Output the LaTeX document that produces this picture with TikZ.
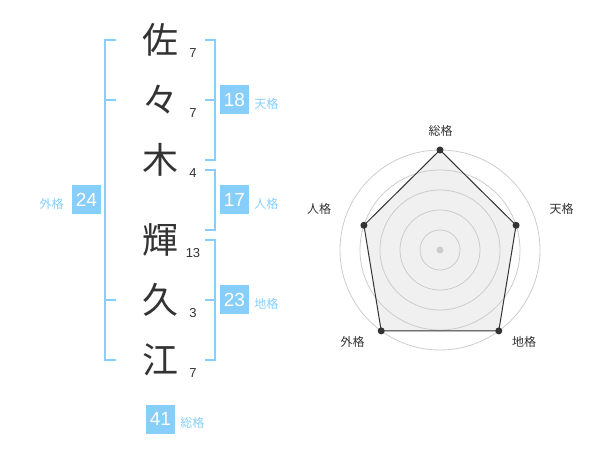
\documentclass[tikz,border=0pt]{standalone}
\usepackage{fontspec}
\setmainfont{Liberation Sans}
\newfontfamily\jpfont{Noto Sans CJK JP}
\usepackage{tikz}
\usetikzlibrary{positioning}
\definecolor{kakublue}{RGB}{135,206,250}
\definecolor{inkgray}{RGB}{51,51,51}
\definecolor{ringgray}{RGB}{204,204,204}
\definecolor{areagray}{RGB}{240,240,240}
\tikzset{
x=1pt, y=-1pt, % one unit is one pixel of the picture, y runs downwards
node distance=60pt, % distance between two characters of the name
kanji/.style={font=\jpfont\fontsize{36}{36}\selectfont, text=inkgray, inner sep=0pt}, % the characters
strokes/.style={font=\fontsize{13}{13}\selectfont, text=inkgray, inner sep=0pt}, % stroke counts
score/.style={fill=kakublue, text=white, minimum size=29pt, inner sep=0pt, font=\fontsize{19}{19}\selectfont}, % the blue boxes
kaku/.style={font=\jpfont\fontsize{12}{12}\selectfont, text=kakublue, inner sep=0pt}, % text beside a box
bracket/.style={draw=kakublue, line width=2pt},
axis label/.style={font=\jpfont\fontsize{12}{12}\selectfont, text=inkgray, inner sep=0pt},
ring/.style={draw=ringgray, line width=0.8pt},
dot/.style={circle, fill=inkgray, inner sep=0pt, minimum size=7pt},
}

\begin{document}
\begin{tikzpicture}
		\useasboundingbox (0,0) rectangle (600,470);
		% the name
		\node[kanji] (k1) at (160,40) {佐};
		\node[kanji, below of=k1] (k2) {々};
		\node[kanji, below of=k2] (k3) {木};
		\node[kanji, below of=k3, node distance=80pt] (k4) {輝};
		\node[kanji, below of=k4] (k5) {久};
		\node[kanji, below of=k5] (k6) {江};
		\node[strokes] (s1) at ([shift={(33,13)}]k1.center) {7};
		\node[strokes] (s2) at ([shift={(33,13)}]k2.center) {7};
		\node[strokes] (s3) at ([shift={(33,13)}]k3.center) {4};
		\node[strokes] (s4) at ([shift={(33,13)}]k4.center) {13};
		\node[strokes] (s5) at ([shift={(33,13)}]k5.center) {3};
		\node[strokes] (s6) at ([shift={(33,13)}]k6.center) {7};
		% brackets
		\draw[bracket] (116,40) -- (105,40) -- (105,360) -- (116,360)
		(105,100) -- (116,100) (105,300) -- (116,300);
		\draw[bracket] (205,40) -- (215,40) -- (215,160) -- (205,160)
		(205,100) -- (215,100);
		\draw[bracket] (205,170) -- (215,170) -- (215,230) -- (205,230);
		\draw[bracket] (205,240) -- (215,240) -- (215,360) -- (205,360)
		(205,300) -- (215,300);
		% scores
		\node[score] (b18) at (234.5,100) {18};
		\node[score] (b17) at (234.5,200) {17};
		\node[score] (b23) at (234.5,300) {23};
		\node[score] (b24) at (86.5,200) {24};
		\node[score] (b41) at (160.5,419) {41};
		\node[kaku, right=5pt of b18, yshift=-3.5pt] (l18) {天格};
		\node[kaku, right=5pt of b17, yshift=-3.5pt] (l17) {人格};
		\node[kaku, right=5pt of b23, yshift=-3.5pt] (l23) {地格};
		\node[kaku, left=8pt of b24, yshift=-3.5pt] (l24) {外格};
		\node[kaku, right=5pt of b41, yshift=-3.5pt] (l41) {総格};
		% radar chart
		\begin{scope}[shift={(440,250)}]
			\coordinate (sou) at (90:100pt);
			\coordinate (ten) at (18:80pt);
			\coordinate (chi) at (-54:100pt);
			\coordinate (gai) at (234:100pt);
			\coordinate (jin) at (162:80pt);
			\fill[areagray] (sou) -- (ten) -- (chi) -- (gai) -- (jin) -- cycle;
			\foreach \r in {20,40,60,80,100}
				\draw[ring] (0,0) circle[radius=\r pt];
			\draw[inkgray, line width=1pt, line join=round]
			(sou) -- (ten) -- (chi) -- (gai) -- (jin) -- cycle;
			\foreach \v in {sou,ten,chi,gai,jin}
				\node[dot] (d-\v) at (\v) {};
			\node[dot, fill=ringgray] (d-c) at (0,0) {};
		\end{scope}
		\node[axis label] (a-sou) at (440.5,130.5) {総格};
		\node[axis label] (a-ten) at (561.5,208.5) {天格};
		\node[axis label] (a-chi) at (524,341.5) {地格};
		\node[axis label] (a-gai) at (352.5,341.5) {外格};
		\node[axis label] (a-jin) at (319,208.5) {人格};
	\end{tikzpicture}
\end{document}
